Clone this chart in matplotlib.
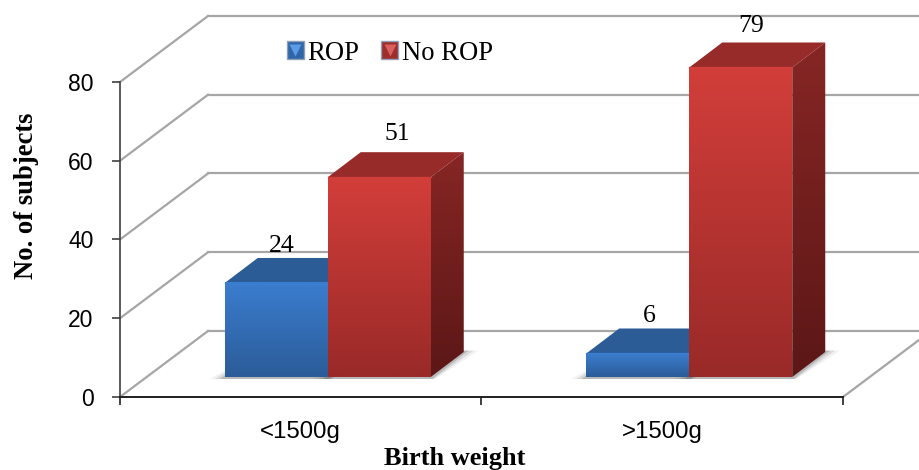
import matplotlib
matplotlib.use('Agg')
import matplotlib.pyplot as plt
import numpy as np
from matplotlib.patches import Polygon, Patch
from matplotlib.lines import Line2D
from matplotlib.legend_handler import HandlerTuple

categories = ['<1500g', '>1500g']
series_names = ['ROP', 'No ROP']
rop = [24, 6]
no_rop = [51, 79]
y_ticks = [0, 20, 40, 60, 80]

SANS = 'Liberation Sans'
SERIF = 'Liberation Serif'

GRID = '#A6A6A6'
BLUE_FRONT = ('#3B7DCF', '#2B5C98')
BLUE_TOP = '#2B5C96'
BLUE_SIDE = ('#255088', '#1C3D68')
RED_FRONT = ('#D23E3A', '#992A28')
RED_TOP = '#962B29'
RED_SIDE = ('#862624', '#5C1717')

fig = plt.figure(figsize=(9.2, 4.7), dpi=100)
ax = fig.add_axes([120 / 920, 73 / 470, 723 / 920, 315 / 470])

# pixel -> data
PX = 2 / 723
PY = 80 / 315

# depth offsets of the 3d look
WALL_DX, WALL_DY = 88 * PX, 66 * PY
FRONT_DX, FRONT_DY = 27 * PX, 20 * PY
BAR_DX, BAR_DY = 33 * PX, 25 * PY
BAR_W = 103 * PX
BAR_SCALE = 0.995  # bars sit a bit deeper than the axis


def vgrad(c_top, c_bot, extent, clip=None, z=3):
    top = np.array(matplotlib.colors.to_rgb(c_top))
    bot = np.array(matplotlib.colors.to_rgb(c_bot))
    t = np.linspace(0, 1, 64)[:, None, None]
    im = ax.imshow(top + (bot - top) * t, extent=extent, aspect='auto',
                   origin='upper', zorder=z, interpolation='bilinear')
    im.set_clip_box(fig.bbox)
    if clip is not None:
        clip.set_transform(ax.transData)
        im.set_clip_path(clip)
    return im


def draw_bar(left, val, front, top, side, z):
    x0 = left + FRONT_DX
    x1 = x0 + BAR_W
    y0 = FRONT_DY
    y1 = y0 + val * BAR_SCALE
    # shadow on the floor
    for grow, a in [(15, .06), (10, .12), (5, .20)]:
        g = grow * PX
        ax.add_patch(Polygon([(x0 - g, y0 - 2 * PY), (x1 + g * .3, y0 - 2 * PY),
                              (x1 + BAR_DX + g, y0 + BAR_DY + 1.5 * PY),
                              (x0 + BAR_DX, y0 + BAR_DY)],
                             fc='#303030', ec='none', alpha=a, zorder=1.5, clip_on=False))
    # top and side faces
    ax.add_patch(Polygon([(x0, y1), (x1, y1), (x1 + BAR_DX, y1 + BAR_DY), (x0 + BAR_DX, y1 + BAR_DY)],
                         fc=top, ec='none', zorder=z, clip_on=False))
    clip = Polygon([(x1, y0), (x1 + BAR_DX, y0 + BAR_DY), (x1 + BAR_DX, y1 + BAR_DY), (x1, y1)])
    vgrad(side[0], side[1], (x1, x1 + BAR_DX, y0, y1 + BAR_DY), clip=clip, z=z)
    # front face
    vgrad(front[0], front[1], (x0, x1, y0, y1), z=z + .1)
    ax.plot([x0, x1], [y1, y1], color=front[0], lw=1, alpha=.8, zorder=z + .2, clip_on=False)
    return x0, y1


def value_label(val, x0, y1, dx, dy):
    ax.annotate(str(val), xy=(x0 + BAR_W / 2, y1 + BAR_DY), xycoords='data',
                xytext=(dx * .72, dy * .72), textcoords='offset points',
                ha='center', va='center', family=SERIF, fontsize=18.5, color='black',
                annotation_clip=False, zorder=8)


# walls
for t in y_ticks:
    wy = t + WALL_DY
    ax.plot([0, WALL_DX], [t, wy], color=GRID, lw=1.6, zorder=1, clip_on=False)
    ax.plot([WALL_DX, 2 + WALL_DX], [wy, wy], color=GRID, lw=1.6, zorder=1, clip_on=False)
ax.plot([2, 2 + WALL_DX], [0, WALL_DY], color=GRID, lw=1.6, zorder=1, clip_on=False)

# bars + value labels, label offsets in px
rop_nudge = [(6, 12), (12, 12)]
no_rop_nudge = [(18, 18), (10, 16)]
for i in range(len(categories)):
    x0, y1 = draw_bar(i + .5 - BAR_W, rop[i], BLUE_FRONT, BLUE_TOP, BLUE_SIDE, 3)
    value_label(rop[i], x0, y1, *rop_nudge[i])
    x0, y1 = draw_bar(i + .5, no_rop[i], RED_FRONT, RED_TOP, RED_SIDE, 4)
    value_label(no_rop[i], x0, y1, *no_rop_nudge[i])

ax.set_xlim(0, 2)
ax.set_ylim(0, 80)

# axes
for s in ['top', 'right']:
    ax.spines[s].set_visible(False)
ax.spines['left'].set_color('#404040')
ax.spines['bottom'].set_color('#202020')
ax.spines['left'].set_linewidth(1.2)
ax.spines['bottom'].set_linewidth(1.4)
ax.patch.set_alpha(0)

ax.set_yticks(y_ticks)
ax.set_yticklabels([str(t) for t in y_ticks], family=SANS, fontsize=16.5)
ax.tick_params(axis='y', length=5.5, width=1.2, color='#404040', pad=13.5)
ax.set_xticks([0, 1, 2])
ax.set_xticklabels(['', '', ''])
ax.tick_params(axis='x', which='major', length=6, width=1.2, color='#202020')
ax.set_xticks([.5, 1.5], minor=True)
ax.set_xticklabels(categories, minor=True, family=SANS, fontsize=17.3)
ax.tick_params(axis='x', which='minor', length=0, pad=17)

ax.set_xlabel('Birth weight', family=SERIF, fontweight='bold', fontsize=19,
              x=(455 - 120) / 723, labelpad=3.5)
ax.set_ylabel('No. of subjects', family=SERIF, fontweight='bold', fontsize=19.2,
              y=(397 - 196) / 315, labelpad=21)


# legend
def swatch(fc, light):
    return (Patch(facecolor=fc, edgecolor='#8FA0B8'),
            Line2D([], [], marker='v', ls='none', mfc=light, mec='none', ms=9))


leg = ax.legend([swatch('#2F66A8', '#5B9BE8'), swatch('#9C2E2C', '#D9605C')], series_names,
                handler_map={tuple: HandlerTuple(ndivide=1, pad=0)},
                loc='center left', bbox_to_anchor=(287 / 920, 417 / 470),
                bbox_transform=fig.transFigure, frameon=False, ncol=2,
                prop={'family': SERIF, 'size': 19.2}, handlelength=.62, handleheight=.62,
                handletextpad=.15, columnspacing=.82, borderpad=0, borderaxespad=0)
leg.set_zorder(9)

fig.savefig('out.png', dpi=100, facecolor='white')
